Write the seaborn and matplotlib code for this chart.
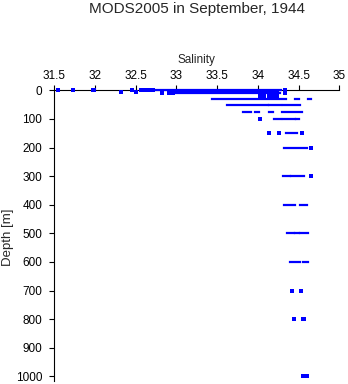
import matplotlib
matplotlib.use("Agg")
import matplotlib.pyplot as plt
import seaborn as sns
import pandas as pd

# ---- data ----
title = "MODS2005 in September, 1944"
x_label = "Salinity"
y_label = "Depth [m]"
x_ticks = [31.5, 32, 32.5, 33, 33.5, 34, 34.5, 35]
x_tick_labels = ["31.5", "32", "32.5", "33", "33.5", "34", "34.5", "35"]
y_ticks = [0, 100, 200, 300, 400, 500, 600, 700, 800, 900, 1000]
y_tick_labels = ["0", "100", "200", "300", "400", "500", "600", "700", "800", "900", "1000"]

# isolated observations
point_depth = [0, 0, 0, 0, 0, 0, 0, 0, 0, 0,
               5, 5,
               10, 10, 10, 10,
               20, 20, 20, 20, 20,
               100,
               150, 150, 150,
               200, 300,
               700, 700,
               800, 800, 800,
               1000, 1000]
point_salinity = [31.55, 31.73, 31.97, 31.99, 32.45, 32.56, 32.61, 32.66, 32.71, 34.33,
                  32.32, 32.50,
                  32.82, 32.91, 32.96, 34.33,
                  34.02, 34.08, 34.14, 34.19, 34.24,
                  34.02,
                  34.14, 34.26, 34.54,
                  34.65, 34.65,
                  34.42, 34.53,
                  34.44, 34.55, 34.57,
                  34.56, 34.60]

# dense runs of observations at one depth (first and last salinity of each run)
run_depth = [0, 5, 10,
             30, 30, 30,
             50, 50, 50,
             75, 75, 75, 75,
             100, 100, 100,
             150,
             200,
             300, 300,
             400, 400,
             500, 500, 500,
             600, 600]
run_sal_start = [32.75, 32.95, 33.00,
                 33.44, 34.46, 34.62,
                 33.62, 34.14, 34.31,
                 33.82, 33.96, 34.14, 34.30,
                 34.20, 34.31, 34.47,
                 34.34,
                 34.32,
                 34.31, 34.41,
                 34.32, 34.52,
                 34.36, 34.46, 34.52,
                 34.39, 34.56]
run_sal_end = [34.29, 34.25, 34.27,
               34.35, 34.50, 34.65,
               34.12, 34.29, 34.52,
               33.91, 34.01, 34.19, 34.54,
               34.28, 34.45, 34.50,
               34.48,
               34.60,
               34.39, 34.57,
               34.46, 34.60,
               34.44, 34.50, 34.61,
               34.52, 34.61]

points = pd.DataFrame({"salinity": point_salinity, "depth": point_depth})

# ---- figure ----
sns.set_style("white")
plt.rcParams["font.family"] = ["Liberation Sans", "DejaVu Sans"]

W, H = 348, 384
fig = plt.figure(figsize=(W / 100, H / 100), dpi=100)
left_px, right_px, top_px, bottom_px = 54.3, 339.3, 90.3, 381.0
ax = fig.add_axes([left_px / W, 1 - bottom_px / H,
                   (right_px - left_px) / W, (bottom_px - top_px) / H])

blue = (0, 0, 1)
ax.hlines(run_depth, run_sal_start, run_sal_end, colors=[blue],
          linewidth=1.6, capstyle="projecting", clip_on=False, zorder=3)
sns.scatterplot(data=points, x="salinity", y="depth", ax=ax, color=blue,
                marker="s", s=4.7, linewidth=0, clip_on=False, zorder=4)

ax.set_xlim(31.5, 35)
ax.set_ylim(1016, 0)

ax.xaxis.tick_top()
ax.xaxis.set_label_position("top")
ax.set_xticks(x_ticks)
ax.set_xticklabels(x_tick_labels)
ax.set_yticks(y_ticks)
ax.set_yticklabels(y_tick_labels)

for s in ["right", "bottom"]:
    ax.spines[s].set_visible(False)
for s in ["top", "left"]:
    ax.spines[s].set_linewidth(0.8)
    ax.spines[s].set_color("black")

ax.tick_params(axis="x", top=True, bottom=False, direction="out", length=3.6,
               width=0.8, pad=2.5, labelsize=8.5, colors="black")
ax.tick_params(axis="y", left=True, direction="out", length=3.6,
               width=0.8, pad=5, labelsize=8.5, colors="black")

ax.set_xlabel(x_label, fontsize=8.5)
ax.xaxis.set_label_coords(0.5, 1 + (top_px - 62.5) / (bottom_px - top_px))
ax.xaxis.label.set_va("baseline")
ax.set_ylabel(y_label, fontsize=9.5)
ax.yaxis.set_label_coords((14.5 - left_px) / (right_px - left_px),
                          (bottom_px - 237) / (bottom_px - top_px))

fig.text(197 / W, 1 - 13.5 / H, title, ha="center", va="baseline", fontsize=11)

fig.savefig("out.png", dpi=100)
